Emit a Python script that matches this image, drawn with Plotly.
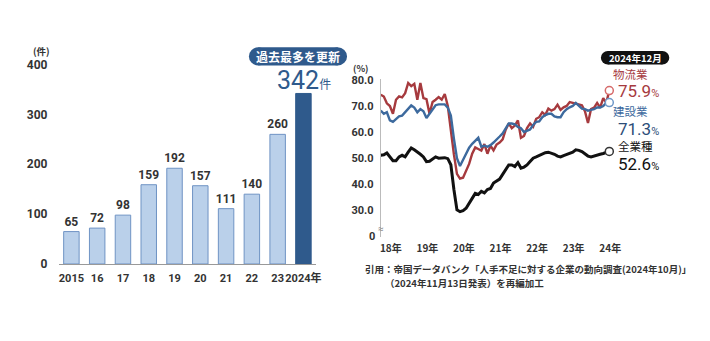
import plotly.graph_objects as go

# ---------------- data ----------------
years = ["2015", "16", "17", "18", "19", "20", "21", "22", "23", "2024年"]
cases = [65, 72, 98, 159, 192, 157, 111, 140, 260, 342]

# monthly shortage ratios (%), index 0..75
logistics = [74.3, 73.6, 71.0, 70.0, 67.0, 72.4, 73.7, 73.3, 74.9, 78.8,
             77.6, 78.5, 72.4, 78.8, 73.0, 72.6, 67.0, 71.5, 72.4, 73.4,
             72.4, 74.6, 70.0, 60.2, 51.5, 44.0, 42.2, 42.5, 45.5, 47.8,
             51.7, 54.1, 53.5, 52.9, 55.4, 51.7, 54.8, 53.0, 55.2, 56.0,
             57.2, 60.9, 63.3, 61.5, 62.5, 64.5, 57.8, 58.5, 61.5, 63.3,
             62.0, 65.1, 65.7, 67.6, 66.6, 69.0, 68.2, 68.8, 70.5, 68.5,
             69.5, 70.0, 71.5, 71.2, 71.0, 70.6, 70.3, 68.0, 63.5, 68.8,
             69.4, 71.2, 69.4, 73.0, 71.2, 75.9]
construction = [68.2, 67.0, 67.6, 64.5, 63.9, 65.0, 66.0, 66.3, 67.5, 69.0,
                70.2, 69.4, 67.6, 68.8, 68.0, 65.4, 67.0, 69.0, 70.3, 70.6,
                70.6, 70.6, 69.4, 66.3, 57.5, 50.0, 47.0, 49.5, 51.5, 54.0,
                55.5, 56.6, 57.8, 54.4, 54.8, 54.4, 55.0, 56.0, 57.0, 58.3,
                59.5, 61.5, 63.3, 63.3, 63.0, 62.0, 61.5, 60.0, 60.5, 61.0,
                62.7, 63.9, 64.1, 65.7, 66.5, 67.0, 67.0, 66.0, 65.7, 65.7,
                67.6, 68.8, 69.5, 70.0, 71.2, 70.2, 69.0, 68.8, 68.2, 68.5,
                68.8, 69.4, 69.4, 70.0, 71.2, 71.3]
all_ind = [51.1, 51.3, 52.0, 50.5, 49.0, 49.0, 50.5, 51.1, 50.5, 52.3,
           53.9, 53.2, 52.5, 51.5, 50.5, 48.7, 48.8, 49.5, 50.5, 50.0,
           50.2, 50.2, 49.8, 47.5, 38.0, 30.2, 29.5, 29.9, 30.8, 33.0,
           34.6, 36.5, 36.1, 37.3, 36.7, 38.0, 38.4, 40.5, 41.2, 42.0,
           43.8, 45.6, 47.4, 47.4, 46.8, 48.3, 46.2, 46.6, 47.4, 48.7,
           50.0, 50.5, 51.1, 51.7, 52.1, 52.3, 52.0, 51.5, 50.8, 50.5,
           51.0, 51.5, 51.8, 52.3, 53.2, 53.0, 52.5, 51.7, 50.8, 50.5,
           50.9, 51.3, 51.5, 51.8, 52.1, 52.6]
months = list(range(len(all_ind)))
year_ticks = [3.3, 15.3, 27.3, 39.3, 51.3, 63.3, 75.3]
year_labels = ["18年", "19年", "20年", "21年", "22年", "23年", "24年"]
y_ticks = [20, 30, 40, 50, 60, 70, 80]
y_labels = ["0", "30.0", "40.0", "50.0", "60.0", "70.0", "80.0"]

W, H = 710, 341
def px(x): return x / W
def py(y): return 1 - y / H

FONT = "Roboto, 'Noto Sans CJK JP', sans-serif"
JP = "'Noto Sans CJK JP', sans-serif"
DARK = "#2f5a8c"
RED = "#a63a3e"
BLUE = "#3d6a9e"

fig = go.Figure()

bar_colors = ["#bad0ea"] * (len(cases) - 1) + [DARK]
line_colors = ["#6f93c4"] * (len(cases) - 1) + [DARK]
bar_text = [str(v) for v in cases[:-1]] + [""]
fig.add_trace(go.Bar(
    x=years, y=cases, text=bar_text, textposition="outside",
    constraintext="none",
    textfont=dict(family=FONT, size=12, color="#333", weight="bold"),
    marker=dict(color=bar_colors, line=dict(color=line_colors, width=1)),
    width=0.6, cliponaxis=False, xaxis="x", yaxis="y", showlegend=False,
    hoverinfo="skip"))

series = [(logistics, RED, "#d66a6a", 2.4),
          (construction, BLUE, "#6f98c8", 2.4),
          (all_ind, "#111111", "#333333", 3.0)]
for vals, col, mcol, w in series:
    fig.add_trace(go.Scatter(
        x=months, y=vals, mode="lines", line=dict(color=col, width=w),
        xaxis="x2", yaxis="y2", showlegend=False, hoverinfo="skip"))
for vals, col, mcol, w in series:
    fig.add_trace(go.Scatter(
        x=[months[-1]], y=[vals[-1]], mode="markers",
        marker=dict(size=8, color="white", line=dict(color=mcol, width=1.5)),
        xaxis="x2", yaxis="y2", showlegend=False, hoverinfo="skip",
        cliponaxis=False))

px_per_month = (613.5 - 383) / 75
x2_range = [0, 78]
x2_right = 383 + x2_range[1] * px_per_month
py_per_unit = (239.3 - 76) / 60
y2_range = [19.8, 80.4]
y2_bottom = 239.3 + 0.2 * py_per_unit
y2_top = 239.3 - (y2_range[1] - 20) * py_per_unit

fig.update_layout(
    width=W, height=H, margin=dict(l=0, r=0, t=0, b=0),
    paper_bgcolor="white", plot_bgcolor="white",
    bargap=0.4,
    xaxis=dict(domain=[px(58), px(318)], type="category", range=[-0.5, 9.5],
               showline=True, linecolor="#999", linewidth=1, ticks="",
               showgrid=False, ticklabelstandoff=4, tickangle=0,
               tickfont=dict(family=FONT, size=11, color="#333", weight="bold")),
    yaxis=dict(domain=[py(268), py(60)], range=[0, 400], showgrid=False,
               zeroline=False, showline=False, tickvals=[0, 100, 200, 300, 400],
               ticklabelstandoff=10,
               tickfont=dict(family=FONT, size=12, color="#333", weight="bold")),
    xaxis2=dict(domain=[px(383), px(x2_right)], range=x2_range, anchor="y2",
                showline=False, showgrid=False, zeroline=False, ticks="",
                tickvals=year_ticks, ticktext=year_labels, ticklabelstandoff=4,
                tickangle=0,
                tickfont=dict(family=JP, size=10, color="#333", weight="bold")),
    yaxis2=dict(domain=[py(y2_bottom), py(y2_top)], range=y2_range, anchor="x2",
                showline=True, linecolor="#bbb", linewidth=1, showgrid=False,
                zeroline=False, tickvals=y_ticks[1:], ticktext=y_labels[1:],
                ticks="", ticklabelstandoff=4,
                tickfont=dict(family=FONT, size=11, color="#333", weight="bold")),
)

shapes = []
def pill(x0, x1, y0, y1, color):
    r = (y1 - y0) / 2
    shapes.append(dict(type="rect", xref="paper", yref="paper",
                       x0=px(x0 + r), x1=px(x1 - r), y0=py(y1), y1=py(y0),
                       fillcolor=color, line=dict(width=0), layer="above"))
    for cx in (x0, x1 - 2 * r):
        shapes.append(dict(type="circle", xref="paper", yref="paper",
                           x0=px(cx), x1=px(cx + 2 * r), y0=py(y1), y1=py(y0),
                           fillcolor=color, line=dict(width=0), layer="above"))
pill(250, 349, 42, 61, DARK)
pill(605, 674, 46, 60, "#111111")
fig.update_layout(shapes=shapes)

ann = []
def text(x, y, s, size, color, family=JP, xanchor="center", weight="bold",
         yref="paper"):
    ann.append(dict(xref="paper", yref=yref, x=px(x),
                    y=py(y) if yref == "paper" else y, text=s, borderpad=0,
                    showarrow=False, xanchor=xanchor, yanchor="middle",
                    font=dict(family=family, size=size, color=color, weight=weight)))

# bottom tick of broken axis ("0" drawn at the 20 position)
text(378, y_ticks[0], y_labels[0], 11, "#333", family=FONT,
     xanchor="right", yref="y2")

text(41, 46, "(件)", 9.5, "#333")
text(299.5, 51.5, "過去最多を更新", 12, "white")
text(306, 77, "342<span style='font-size:12px'>件</span>", 25, DARK, family=FONT,
     weight="normal")
text(639.5, 53, "2024年12月", 9.5, "white")
text(363, 64, "(%)", 9, "#333")
text(383, 231, "≈", 10, "#888", family=FONT, weight="normal")

text(616, 70, "物流業", 11.5, RED, xanchor="left", weight="normal")
text(621, 88, "75.9<span style='font-size:11px'>%</span>", 17, RED,
     family=FONT, xanchor="left", weight="normal")
text(616, 108, "建設業", 11.5, BLUE, xanchor="left", weight="normal")
text(621, 127, "71.3<span style='font-size:11px'>%</span>", 17, "#2c4d78",
     family=FONT, xanchor="left", weight="normal")
text(621, 145, "全業種", 11.5, "#111", xanchor="left", weight="normal")
text(621, 164, "52.6<span style='font-size:11px'>%</span>", 17, "#111",
     family=FONT, xanchor="left", weight="normal")

text(366, 273, "引用：帝国データバンク「人手不足に対する企業の動向調査(2024年10月)」",
     9.5, "#333", xanchor="left")
text(386, 288, "（2024年11月13日発表）を再編加工", 9.5, "#333", xanchor="left")
fig.update_layout(annotations=ann)

fig.write_html("out.html")
